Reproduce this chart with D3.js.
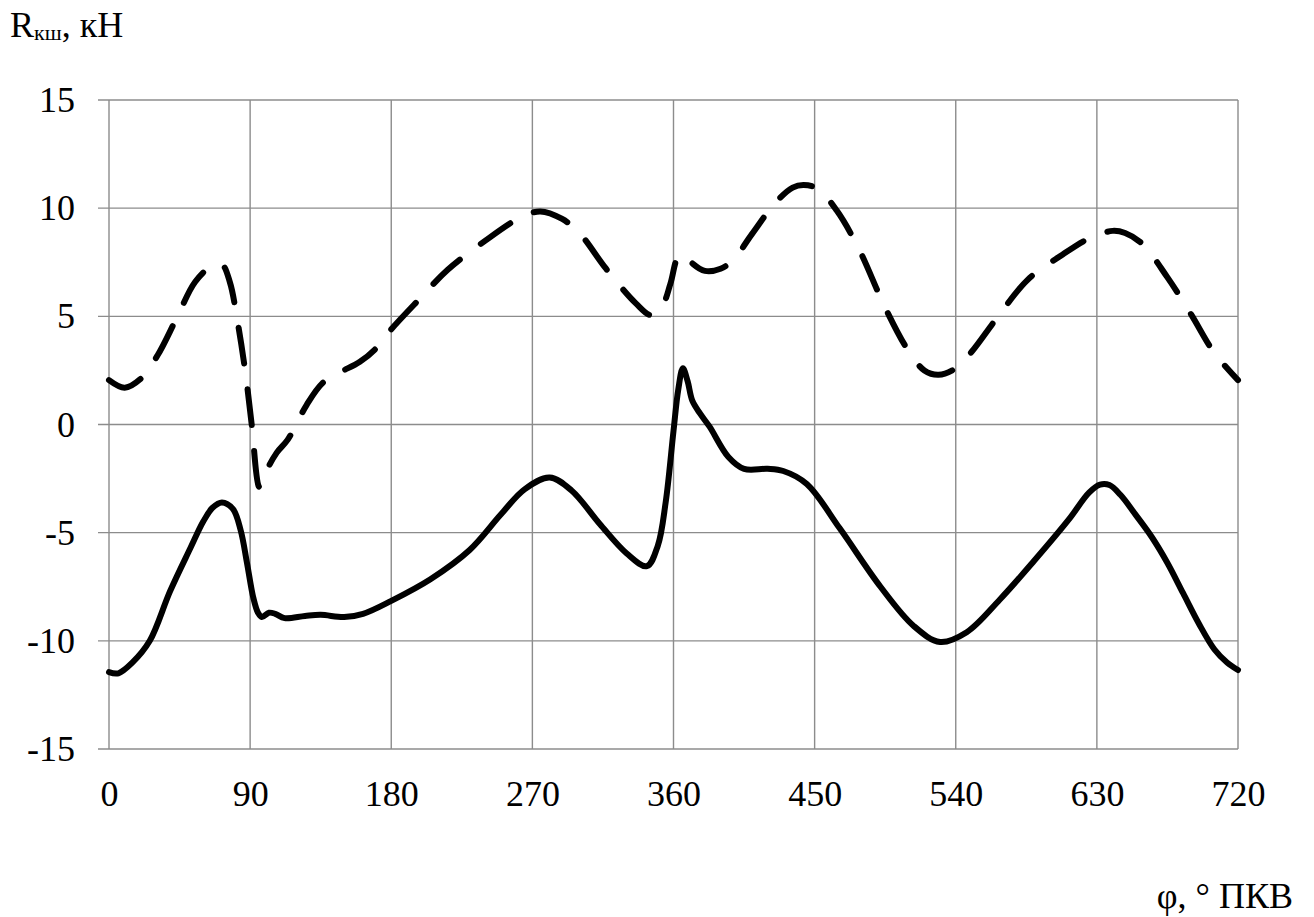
<!DOCTYPE html>
<html>
<head>
<meta charset="utf-8">
<script src="https://cdn.jsdelivr.net/npm/d3@7"></script>
<style>
  body { margin: 0; background: #fff; }
  svg { display: block; font-family: "Liberation Serif", "Times New Roman", serif; }
</style>
</head>
<body>
<svg id="chart" width="1314" height="917"></svg>
<script>
// solid curve
var solidPhi = [0, 6, 15, 26, 39, 52, 60, 66, 72, 79, 84, 88, 92, 95, 97.5, 102, 106, 112, 125, 135, 150, 162, 180, 205, 230, 250, 265, 281, 295, 313, 330, 343, 350, 355, 360, 363, 366, 369, 372, 377, 383, 395, 405, 420, 430, 445, 466, 492, 513, 530, 547, 568, 590, 612, 625, 632, 638, 645, 655, 665, 675, 685, 695, 705, 713, 720];
var solidR = [-11.45, -11.5, -11.0, -10.0, -7.7, -5.7, -4.5, -3.85, -3.6, -3.9, -4.9, -6.4, -8.0, -8.7, -8.9, -8.7, -8.75, -8.95, -8.85, -8.8, -8.9, -8.75, -8.15, -7.15, -5.8, -4.15, -3.0, -2.45, -3.05, -4.6, -5.95, -6.55, -5.6, -3.6, -0.3, 1.6, 2.6, 2.0, 1.1, 0.5, -0.1, -1.5, -2.05, -2.05, -2.15, -2.75, -4.8, -7.5, -9.3, -10.05, -9.6, -8.1, -6.3, -4.4, -3.15, -2.78, -2.8, -3.25, -4.2, -5.2, -6.4, -7.8, -9.2, -10.4, -11.0, -11.35];

// dashed curve
var dashPhi = [0, 10, 20, 31, 43, 55, 66, 72, 77, 82, 87, 91, 96, 100, 107, 114, 126, 136, 147, 160, 170, 180, 198, 216, 240, 262, 275, 289, 300, 317, 336, 346, 353, 358, 363, 367, 372, 380, 390, 398, 410, 425, 436, 443, 452, 464, 478, 495, 509, 520, 529, 540, 550, 567, 586, 608, 625, 640, 648, 659, 675, 690, 705, 720];
var dashR = [2.05, 1.7, 2.1, 3.2, 4.9, 6.6, 7.35, 7.4, 6.6, 4.75, 2.4, 0.0, -2.9, -2.2, -1.3, -0.7, 0.9, 1.9, 2.4, 2.9, 3.5, 4.4, 5.8, 7.15, 8.5, 9.55, 9.85, 9.5, 8.85, 7.2, 5.6, 5.05, 5.5, 6.5, 7.75, 7.85, 7.45, 7.1, 7.2, 7.6, 8.8, 10.25, 10.95, 11.07, 10.9, 9.9, 8.15, 5.4, 3.5, 2.5, 2.3, 2.6, 3.35, 5.0, 6.7, 7.85, 8.6, 8.95, 8.85, 8.35, 6.8, 5.1, 3.3, 2.05];

var xTicks = [0, 90, 180, 270, 360, 450, 540, 630, 720];
var yTicks = [-15, -10, -5, 0, 5, 10, 15];

var svg = d3.select('#chart');
var margin = {top: 100, right: 76, bottom: 168, left: 109};
var width = 1314 - margin.left - margin.right;
var height = 917 - margin.top - margin.bottom;
var gridColor = '#8c8c8c';

var x = d3.scaleLinear().domain([0, 720]).range([0, width]);
var y = d3.scaleLinear().domain([-15, 15]).range([height, 0]);

var g = svg.append('g').attr('transform', 'translate(' + margin.left + ',' + margin.top + ')');

// grid
g.append('g').selectAll('line')
    .data(yTicks)
    .enter()
    .append('line')
    .attr('x1', -11).attr('x2', width)
    .attr('y1', function (d) { return y(d); })
    .attr('y2', function (d) { return y(d); })
    .style('stroke', gridColor).style('stroke-width', 1.4);

g.append('g').selectAll('line')
    .data(xTicks)
    .enter()
    .append('line')
    .attr('x1', function (d) { return x(d); })
    .attr('x2', function (d) { return x(d); })
    .attr('y1', 0).attr('y2', height)
    .style('stroke', gridColor).style('stroke-width', 1.4);

// tick labels, plain hyphen for negatives like the original
var yAxis = g.append('g')
    .call(d3.axisLeft(y).tickValues(yTicks).tickFormat(String).tickSize(0).tickPadding(34));
var xAxis = g.append('g')
    .attr('transform', 'translate(0,' + height + ')')
    .call(d3.axisBottom(x).tickValues(xTicks).tickFormat(String).tickSize(0).tickPadding(31));
[yAxis, xAxis].forEach(function (a) {
    a.select('.domain').remove();
    a.selectAll('text')
        .style('font-family', '"Liberation Serif", serif')
        .style('font-size', '36px')
        .attr('fill', '#000');
});

// curves
var line = d3.line()
    .x(function (d) { return x(d[0]); })
    .y(function (d) { return y(d[1]); })
    .curve(d3.curveCatmullRom.alpha(0.5));

g.append('path')
    .datum(d3.zip(solidPhi, solidR))
    .attr('d', line)
    .attr('fill', 'none')
    .style('stroke', '#000').style('stroke-width', 6)
    .style('stroke-linejoin', 'round').style('stroke-linecap', 'round');

g.append('path')
    .datum(d3.zip(dashPhi, dashR))
    .attr('d', line)
    .attr('fill', 'none')
    .style('stroke', '#000').style('stroke-width', 6)
    .style('stroke-dasharray', '36,26')
    .style('stroke-linejoin', 'round').style('stroke-linecap', 'round');

// axis titles
var yTitle = svg.append('text')
    .attr('x', 10).attr('y', 37)
    .style('font-size', '36px').attr('fill', '#000');
yTitle.append('tspan').text('R');
yTitle.append('tspan').attr('dy', 3).style('font-size', '22px').text('кш');
yTitle.append('tspan').attr('dy', -3).text(', кН');

svg.append('text')
    .attr('x', 1293).attr('y', 908)
    .attr('text-anchor', 'end')
    .style('font-size', '36px').attr('fill', '#000')
    .text('φ, ° ПКВ');
</script>
</body>
</html>
